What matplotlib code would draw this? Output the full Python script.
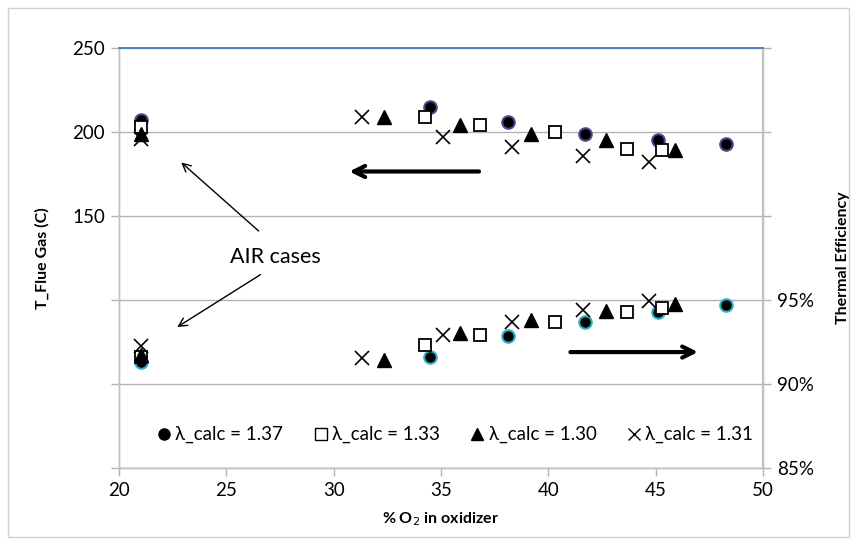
import matplotlib.pyplot as plt
from matplotlib.lines import Line2D
from matplotlib.patches import Rectangle

plt.rcParams['font.family'] = ['Lato', 'DejaVu Sans']

# Data: % O2 in oxidizer, flue gas temperature (C), thermal efficiency (%)
o2_137 = [21, 34.5, 38.1, 41.7, 45.1, 48.3]
t_137 = [207, 215, 206, 199, 195, 193]
eff_137 = [91.3, 91.6, 92.85, 93.67, 94.27, 94.7]

o2_133 = [21, 34.25, 36.8, 40.3, 43.65, 45.3]
t_133 = [203, 209, 204, 200, 190, 189.3]
eff_133 = [91.6, 92.3, 92.9, 93.67, 94.27, 94.5]

o2_130 = [21, 32.35, 35.9, 39.2, 42.7, 45.9]
t_130 = [199, 209, 204, 199, 195, 189]
eff_130 = [91.7, 91.45, 93.05, 93.8, 94.36, 94.75]

o2_131 = [21, 31.3, 35.1, 38.3, 41.6, 44.7]
t_131 = [196, 209, 197, 191, 186, 182]
eff_131 = [92.25, 91.55, 92.9, 93.7, 94.4, 94.95]

labels = ["λ_calc = 1.37", "λ_calc = 1.33", "λ_calc = 1.30", "λ_calc = 1.31"]

left_ticks = [0, 50, 100, 150, 200, 250]
left_labels = ["", "", "", "150", "200", "250"]
right_ticks = [85, 90, 95, 100, 105, 110]
right_labels = ["85%", "90%", "95%", "", "", ""]

fig = plt.figure(figsize=(8.57, 5.45), dpi=100)
ax = fig.add_axes([0.1389, 0.1413, 0.7514, 0.7706])
ax2 = ax.twinx()

grid_c = '#b3b3b3'

# temperature series (primary axis)
ax.plot(o2_137, t_137, 'o', ms=9, mfc='black', mec='#4b4789', mew=1.5, zorder=3)
ax.plot(o2_133, t_133, 's', ms=9, mfc='white', mec='black', mew=1.3, zorder=3)
ax.plot(o2_130, t_130, '^', ms=10, mfc='black', mec='black', zorder=3)
ax.plot(o2_131, t_131, 'x', ms=10, mec='black', mew=1.2, zorder=3)

# efficiency series (secondary axis)
ax2.plot(o2_137, eff_137, 'o', ms=9, mfc='black', mec='#2fb0c8', mew=1.5, zorder=3)
ax2.plot(o2_133, eff_133, 's', ms=9, mfc='white', mec='black', mew=1.3, zorder=3)
ax2.plot(o2_130, eff_130, '^', ms=10, mfc='black', mec='black', zorder=3)
ax2.plot(o2_131, eff_131, 'x', ms=10, mec='black', mew=1.2, zorder=3)

ax.set_xlim(20, 50)
ax.set_ylim(0, 250)
ax2.set_ylim(85, 110)
ax.set_xticks([20, 25, 30, 35, 40, 45, 50])
ax.set_yticks(left_ticks)
ax.set_yticklabels(left_labels)
ax2.set_yticks(right_ticks)
ax2.set_yticklabels(right_labels)

ax.yaxis.grid(True, color=grid_c, lw=1)
ax.set_axisbelow(True)

for a in (ax, ax2):
    a.tick_params(labelsize=13.5, color=grid_c, length=6, width=1, pad=4)
    for side in ('left', 'right', 'bottom'):
        a.spines[side].set_color('#c0c0c0')
        a.spines[side].set_linewidth(1)
    a.spines['top'].set_color('#4f81bd')
    a.spines['top'].set_linewidth(1.3)
ax2.spines['right'].set_linewidth(1.5)

ax.set_xlabel("% O$_2$ in oxidizer", fontsize=11.5, fontweight='bold', labelpad=8)
ax.set_ylabel("T_Flue Gas (C)", fontsize=11.5, fontweight='bold', labelpad=16)
ax2.set_ylabel("Thermal Efficiency", fontsize=11.5, fontweight='bold', labelpad=16)

# trend arrows
ax.annotate("", xy=(30.6, 176.5), xytext=(36.9, 176.5),
            arrowprops=dict(arrowstyle='->,head_length=0.8,head_width=0.4', lw=3, color='black'))
ax.annotate("", xy=(47.1, 69), xytext=(40.9, 69),
            arrowprops=dict(arrowstyle='->,head_length=0.8,head_width=0.4', lw=3, color='black'))

# AIR cases note
ax.text(27.3, 125.5, "AIR cases", fontsize=15.5, ha='center', va='center')
ax.annotate("", xy=(22.8, 183), xytext=(26.6, 140),
            arrowprops=dict(arrowstyle='->,head_length=0.6,head_width=0.3', lw=1, color='black'))
ax.annotate("", xy=(22.6, 83), xytext=(26.7, 116),
            arrowprops=dict(arrowstyle='->,head_length=0.6,head_width=0.3', lw=1, color='black'))

handles = [
    Line2D([], [], ls='none', marker='o', ms=8, mfc='black', mec='black'),
    Line2D([], [], ls='none', marker='s', ms=8, mfc='white', mec='black', mew=1),
    Line2D([], [], ls='none', marker='^', ms=9, mfc='black', mec='black'),
    Line2D([], [], ls='none', marker='x', ms=9, mec='black', mew=1),
]
ax2.legend(handles, labels, loc='center', bbox_to_anchor=(0.52, 0.079), ncol=4,
           frameon=False, fontsize=13.5, handletextpad=0.1, columnspacing=1.5,
           handlelength=1.0)

fig.patches.append(Rectangle((8 / 857, 8 / 545), 841 / 857, 529 / 545, transform=fig.transFigure,
                             fill=False, edgecolor='#d0d0d0', lw=1))

fig.savefig('out.png', dpi=100)
